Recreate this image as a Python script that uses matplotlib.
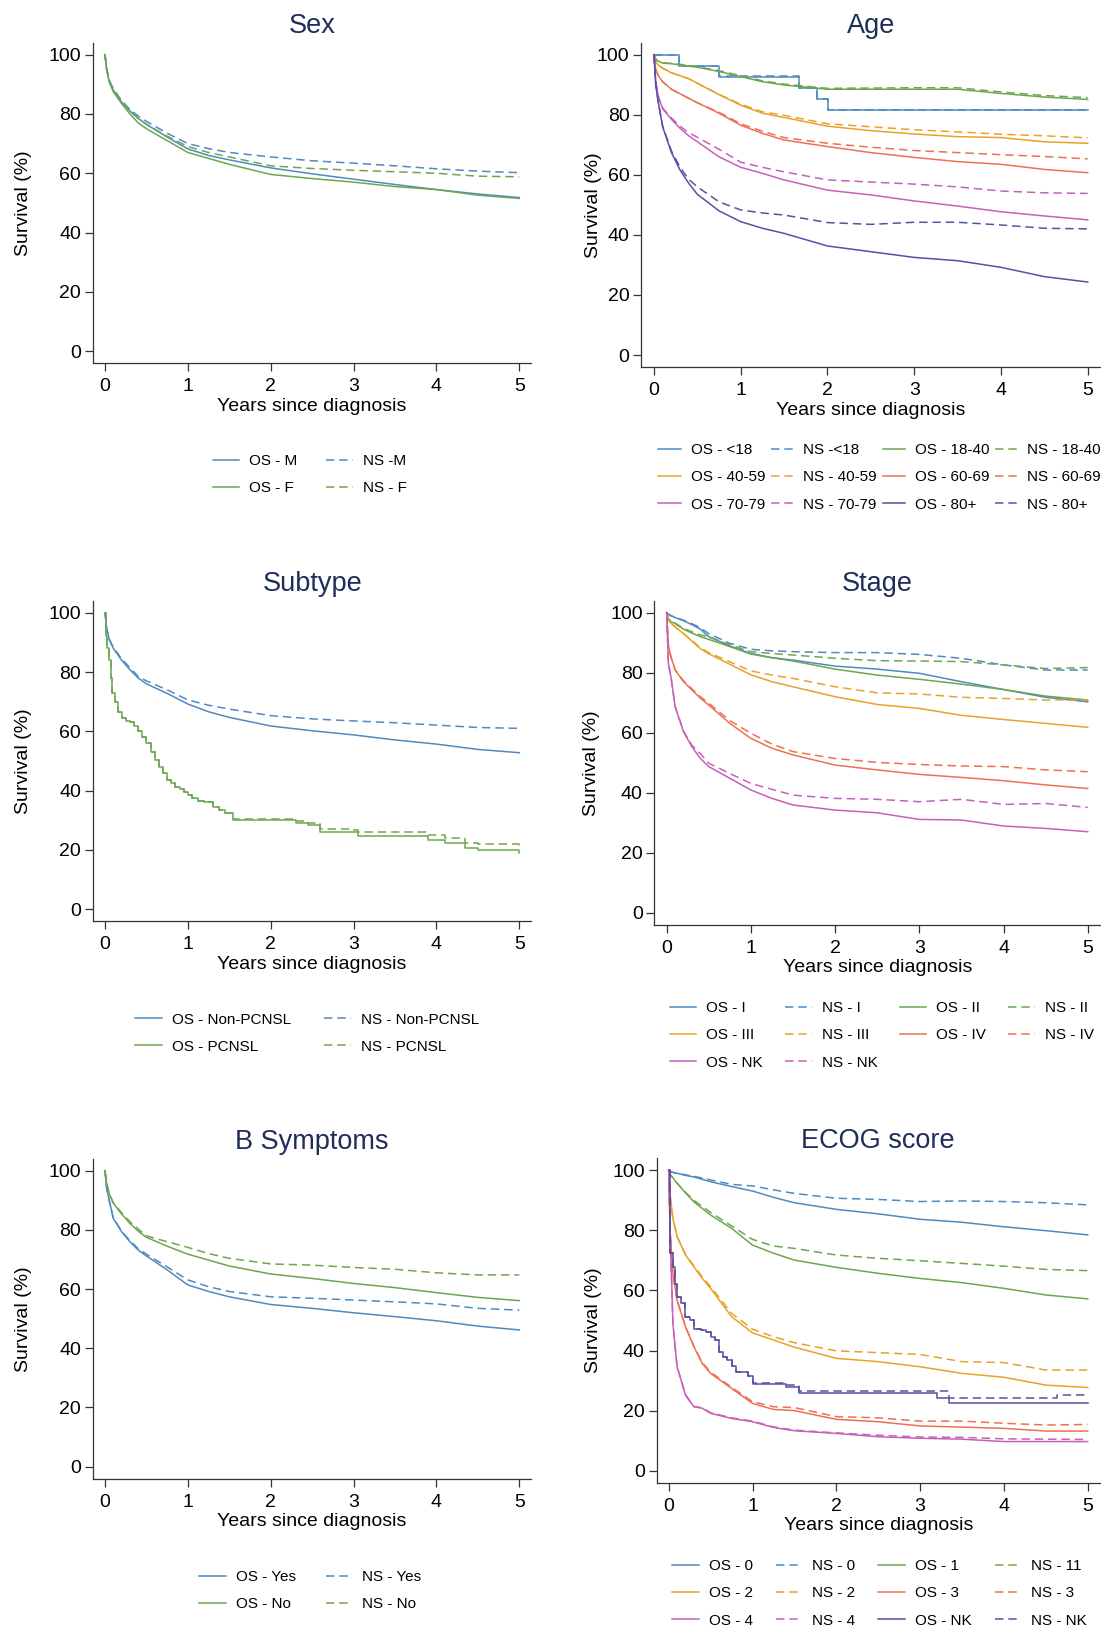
import matplotlib
matplotlib.use('Agg')
import matplotlib.pyplot as plt
from matplotlib.lines import Line2D

plt.rcParams['font.family'] = ['Liberation Sans', 'DejaVu Sans']

# ---------------- data (survival %) ----------------
# common time grid (years) for the smooth curves
grid = [0, 0.02, 0.05, 0.1, 0.2, 0.3, 0.4, 0.5, 0.75, 1, 1.25, 1.5, 2, 2.5, 3, 3.5, 4, 4.5, 5]

# Sex
os_m = [100, 95, 91, 88, 84, 81, 78.5, 76.5, 72.2, 68.2, 66, 64.5, 61.8, 59.8, 58, 56.2, 54.5, 53, 51.8]
ns_m = [100, 95.2, 91.5, 88.5, 84.5, 81.5, 79.3, 77.5, 73.5, 70, 68.3, 67, 65.5, 64.2, 63.4, 62.5, 61.5, 60.7, 60.2]
os_f = [100, 95, 91, 87.5, 83.5, 80, 77, 75, 71, 67, 65, 63, 59.6, 58.2, 57, 55.5, 54.5, 52.6, 51.5]
ns_f = [100, 95, 91, 88, 84, 81, 78.5, 76.5, 72.5, 69, 67, 65.5, 62.5, 61.6, 61, 60.5, 60, 59, 58.8]

# Age
age_u18_t = [0, 0.29, 0.755, 1.676, 1.876, 2.01, 5]
os_u18 = [100, 96.3, 92.7, 88.9, 85.2, 81.5, 81.5]
ns_u18 = [100, 96.4, 92.8, 89.0, 85.3, 81.6, 81.6]
os_18_40 = [100, 98.5, 97.8, 97.2, 97, 96.6, 96.2, 95.8, 94.4, 92.7, 91, 89.9, 88.5, 88.5, 88.5, 88.5, 87.1, 85.9, 85.1]
ns_18_40 = [100, 98.5, 97.8, 97.3, 97.1, 96.8, 96.4, 96, 94.7, 93, 91.3, 90.2, 88.8, 88.9, 89, 89, 87.6, 86.4, 85.7]
os_40_59 = [100, 97.5, 96.5, 95.5, 94, 93, 92, 90.5, 86.7, 83.2, 80.5, 79.1, 76.2, 74.7, 73.6, 72.7, 72.4, 71, 70.5]
ns_40_59 = [100, 97.5, 96.5, 95.5, 94, 93, 92, 90.5, 86.8, 83.5, 81, 79.8, 77, 76, 75, 74.3, 73.5, 73, 72.3]
os_60_69 = [100, 95, 93, 91, 88.5, 87, 85.5, 84, 80.5, 76.5, 73.8, 71.6, 69.4, 67.4, 65.8, 64.4, 63.5, 61.8, 60.7]
ns_60_69 = [100, 95, 93, 91, 88.5, 87, 85.5, 84, 80.8, 77, 74.5, 72.4, 70.5, 69.2, 68.1, 67.4, 66.7, 66.1, 65.3]
os_70_79 = [100, 91, 86, 82, 78.5, 75.5, 73, 71, 66, 62.5, 60.5, 58.3, 54.9, 53.3, 51.3, 49.6, 47.7, 46.3, 45]
ns_70_79 = [100, 91, 86, 82.2, 79, 76.2, 74, 72.5, 68.5, 64.2, 62.5, 61, 58.3, 57.6, 56.9, 56, 54.6, 54, 53.8]
os_80p = [100, 90, 84, 76, 67.5, 61.6, 57.2, 53.5, 48, 44.4, 42.2, 40.5, 36.3, 34.4, 32.5, 31.4, 29.2, 26.1, 24.3]
ns_80p = [100, 90, 84, 76.2, 68, 62.5, 58.5, 56, 51, 48.3, 47.3, 46.6, 44.1, 43.5, 44.2, 44.2, 43.3, 42.2, 42]

# Subtype
os_non = [100, 94.7, 91, 88, 84, 80.8, 78, 76, 72.8, 69.2, 66.6, 64.7, 61.8, 60.2, 58.8, 57.1, 55.7, 53.9, 52.8]
ns_non = [100, 94.8, 91.2, 88.3, 84.5, 81.5, 78.5, 77, 74, 70.6, 68.8, 67.5, 65.3, 64.2, 63.5, 62.9, 62.1, 61.3, 61]
pcnsl_t = [0, 0.01, 0.03, 0.05, 0.07, 0.09, 0.12, 0.16, 0.2, 0.25, 0.3, 0.35, 0.4, 0.45, 0.5, 0.55, 0.6, 0.65,
           0.7, 0.75, 0.8, 0.85, 0.9, 0.95, 1.0, 1.05, 1.12, 1.2, 1.3, 1.38, 1.45, 1.55, 2.3, 2.45, 2.6, 3.0,
           3.05, 3.9, 4.1, 4.35, 4.5, 5.0]
os_pcnsl = [100, 92, 88, 84, 78, 73, 70, 66.5, 64.5, 63.5, 63, 61.8, 60, 58, 56, 53, 50.3, 48, 45.8, 43.6, 42.5,
            41.3, 40.5, 39.7, 38.5, 37.4, 36.6, 36.3, 34.6, 33.5, 32.4, 30.1, 29.2, 28.4, 26.2, 25.9, 24.7,
            23.4, 22.2, 20.6, 20, 19.1]
ns_pcnsl = [100, 92, 88, 84, 78, 73, 70, 66.5, 64.5, 63.5, 63, 61.8, 60, 58, 56, 53, 50.3, 48, 45.8, 43.6, 42.5,
            41.3, 40.5, 39.7, 38.5, 37.4, 36.6, 36.3, 34.6, 33.5, 32.4, 30.3, 29.8, 29.2, 27, 26.6, 26,
            25.2, 24, 22.5, 22, 21.2]

# Stage
os_i = [100, 99.5, 99, 98.4, 97.3, 96, 94.5, 92, 88.9, 86.4, 85, 84.2, 82.2, 81.2, 79.8, 77, 74.4, 71.8, 70.3]
ns_i = [100, 99.5, 99, 98.5, 97.5, 96.3, 95, 93, 89.8, 87.8, 87.3, 87, 86.7, 86.7, 86.1, 84.8, 82.6, 80.9, 80.9]
os_ii = [100, 98, 97, 96.4, 94.5, 93.2, 92, 91.1, 88.7, 86.2, 85, 83.9, 81.2, 79.2, 77.8, 76.2, 74.4, 72.2, 70.9]
ns_ii = [100, 98, 97, 96.5, 94.8, 93.6, 92.6, 92, 89.3, 87, 86.4, 85.9, 84.8, 84, 83.9, 83.7, 82.6, 81.4, 81.7]
os_iii = [100, 97.5, 96.5, 95.3, 93, 90.5, 88, 86.3, 82.8, 79.3, 77, 75.3, 72, 69.4, 68.1, 65.8, 64.4, 63.1, 61.8]
ns_iii = [100, 97.5, 96.5, 95.3, 93, 90.8, 88.3, 86.7, 83.6, 80.6, 79.2, 78.1, 75.3, 73.3, 72.9, 71.8, 71.4, 70.9, 70.9]
os_iv = [100, 89, 85.3, 80.9, 77, 74.2, 71.5, 69.2, 63.1, 58.1, 54.8, 52.6, 49.2, 47.6, 46.1, 45.1, 44, 42.6, 41.4]
ns_iv = [100, 89, 85.3, 81, 77.3, 74.6, 72, 69.8, 64, 59.8, 56.2, 53.7, 51.4, 50.1, 49.4, 48.9, 48.7, 47.6, 47]
os_snk = [100, 83, 78.7, 68.7, 60.3, 55.3, 51.4, 48.7, 44.8, 40.9, 38.1, 35.9, 34.2, 33.3, 31.1, 30.9, 28.9, 28.1, 27]
ns_snk = [100, 83, 78.7, 68.7, 60.5, 55.8, 53, 49.8, 46.4, 43.1, 41.1, 39.2, 38.1, 37.8, 37, 37.8, 36.1, 36.4, 35.1]

# B symptoms
os_yes = [100, 94, 90.1, 83.9, 79.4, 76, 73.2, 71.2, 66.5, 61.4, 59.2, 57.4, 54.8, 53.5, 52, 50.7, 49.3, 47.5, 46.2]
ns_yes = [100, 94, 90.1, 84, 79.6, 76.4, 73.7, 71.8, 67.5, 63.1, 60.8, 59.2, 57.4, 56.9, 56.3, 55.7, 55, 53.5, 52.9]
os_no = [100, 95.7, 92.3, 89, 85.4, 82.2, 79.6, 77.5, 74.5, 71.8, 69.8, 67.8, 65.1, 63.6, 61.9, 60.5, 58.8, 57.2, 56.1]
ns_no = [100, 95.7, 92.3, 89.2, 85.8, 82.8, 80.3, 78, 76, 74.1, 72, 70.4, 68.5, 68.1, 67.3, 66.7, 65.5, 64.8, 64.8]

# ECOG
os_e0 = [100, 99.6, 99.3, 99, 98.3, 97.8, 97, 96.2, 94.6, 93.1, 91, 89.2, 87, 85.5, 83.7, 82.7, 81.2, 79.9, 78.5]
ns_e0 = [100, 99.6, 99.3, 99, 98.5, 98, 97.4, 96.8, 95.3, 94.8, 93.5, 92.3, 90.7, 90.3, 89.6, 89.8, 89.6, 89.2, 88.5]
os_e1 = [100, 98.5, 97.5, 95.7, 92.5, 89.5, 87.3, 85.1, 80.7, 75.1, 72.4, 70.1, 67.7, 65.7, 64, 62.6, 60.7, 58.5, 57.2]
ns_e1 = [100, 98.5, 97.5, 95.7, 92.7, 90, 88, 86, 81.5, 77, 74.8, 74, 71.8, 70.7, 69.9, 69, 68.1, 67, 66.6]
os_e2 = [100, 91, 84, 77.9, 71.8, 67.9, 64, 60.7, 51.3, 45.9, 43.5, 41.1, 37.4, 36.3, 34.6, 32.4, 31.1, 28.5, 27.7]
ns_e2 = [100, 91, 84, 78, 72, 68.2, 64.5, 61.3, 52.4, 47.1, 44.6, 42.6, 39.9, 39.3, 38.7, 36.3, 36, 33.5, 33.5]
os_e3 = [100, 78, 65.7, 56.8, 47.9, 41.3, 35.7, 32.4, 27.4, 22.4, 20.4, 20, 17.1, 16.3, 14.9, 14.5, 14.1, 13.2, 13.2]
ns_e3 = [100, 78, 65.7, 56.8, 48, 41.5, 36, 32.8, 27.8, 23, 21.3, 21, 18, 17.6, 16.5, 16.5, 15.8, 15.2, 15.4]
os_e4 = [100, 76.8, 49.1, 34.6, 25.2, 21.3, 20.8, 19.1, 17.4, 16.3, 14.4, 13.3, 12.4, 11.3, 10.8, 10.5, 9.7, 9.7, 9.7]
ns_e4 = [100, 76.8, 49.1, 34.6, 25.3, 21.4, 20.9, 19.3, 17.6, 16.5, 14.6, 13.5, 12.6, 11.8, 11.2, 11.1, 10.6, 10.5, 10.4]
enk_t = [0, 0.01, 0.02, 0.05, 0.08, 0.1, 0.15, 0.2, 0.25, 0.3, 0.38, 0.45, 0.5, 0.55, 0.6, 0.65, 0.7, 0.75,
         0.8, 0.95, 1.0, 1.4, 1.55, 3.2, 3.35, 4.63, 5]
os_enk = [100, 85, 72.4, 67.9, 62, 57.9, 55.7, 51.3, 50.2, 47.1, 46.8, 46.3, 44.6, 43.5, 39.6, 38, 36.8, 35,
          33, 31.5, 28.9, 28, 25.7, 24.1, 22.6, 22.6, 22.6]
ns_enk = [100, 85, 72.4, 67.9, 62, 57.9, 55.7, 51.3, 50.2, 47.1, 46.8, 46.3, 44.6, 43.5, 39.6, 38, 36.8, 35,
          33, 31.5, 29.2, 28.4, 26.6, 26.6, 24.3, 25.2, 25.2]

# ---------------- styling ----------------
W, H = 1101, 1626
BLUE = '#4f8ac1'
GREEN = '#6ea650'
ORANGE = '#e8a22a'
RED = '#ee7052'
PINK = '#c561b8'
PURPLE = '#5b4fa3'
NAVY = '#1f2d5a'
DASH = (5.5, 3.2)
XL = (-0.145, 5.145)
YL = (-4, 104)

fig = plt.figure(figsize=(W / 100, H / 100), dpi=100)


def panel(x0, x5, y100, y0, title, ylab_x):
    """make an axes from pixel positions of x=0, x=5, y=100, y=0"""
    ppx = (x5 - x0) / 5.0
    ppy = (y0 - y100) / 100.0
    left = x0 + XL[0] * ppx
    right = x0 + XL[1] * ppx
    top = y100 - (YL[1] - 100) * ppy
    bottom = y0 - YL[0] * ppy
    ax = fig.add_axes([left / W, 1 - bottom / H, (right - left) / W, (bottom - top) / H])
    ax.set_xlim(*XL)
    ax.set_ylim(*YL)
    ax.set_xticks(range(6))
    ax.set_yticks(range(0, 101, 20))
    for s in ('top', 'right'):
        ax.spines[s].set_visible(False)
    for s in ('left', 'bottom'):
        ax.spines[s].set_linewidth(0.9)
        ax.spines[s].set_color('#333333')
    ax.tick_params(direction='out', length=5.5, width=0.9, color='#333333',
                   labelsize=14, pad=3)
    ax.tick_params(axis='x', pad=5.5)
    cx = (left + right) / 2
    fig.text(cx / W, 1 - (top - 17) / H, title, ha='center', va='center',
             fontsize=19.5, color=NAVY)
    fig.text(cx / W, 1 - (bottom + 43) / H, 'Years since diagnosis',
             ha='center', va='center', fontsize=14)
    fig.text(ylab_x / W, 1 - ((top + bottom) / 2) / H, 'Survival (%)', rotation=90,
             ha='center', va='center', fontsize=14)
    return ax


def curve(ax, t, s, color, dashed=False, steps=False):
    kw = dict(color=color, lw=1.1)
    if steps:
        kw['drawstyle'] = 'steps-post'
    line, = ax.plot(t, s, **kw)
    if dashed:
        line.set_dashes(DASH)
    return line


def legend(entries, x, y, ncol, colsp, hlen=1.75):
    """entries given row by row; matplotlib fills column by column"""
    cols = [[] for _ in range(ncol)]
    for i, e in enumerate(entries):
        cols[i % ncol].append(e)
    ordered = [e for c in cols for e in c]
    handles = []
    for lab, col, dashed in ordered:
        h = Line2D([], [], color=col, lw=1.1)
        if dashed:
            h.set_dashes(DASH)
        handles.append(h)
    fig.legend(handles, [e[0] for e in ordered], loc='upper left',
               bbox_to_anchor=(x / W, 1 - (y - 5) / H), ncol=ncol, frameon=False,
               fontsize=11, handlelength=hlen, handletextpad=0.65,
               columnspacing=colsp, labelspacing=0.87, borderpad=0, borderaxespad=0)


# Sex
ax = panel(105, 519.3, 54.6, 351.2, 'Sex', 23.8)
curve(ax, grid, os_m, BLUE)
curve(ax, grid, ns_m, BLUE, dashed=True)
curve(ax, grid, os_f, GREEN)
curve(ax, grid, ns_f, GREEN, dashed=True)
legend([('OS - M', BLUE, False), ('NS -M', BLUE, True),
        ('OS - F', GREEN, False), ('NS - F', GREEN, True)], 212.5, 459, 2, 1.9)

# Age
ax = panel(654, 1087.7, 54.7, 355, 'Age', 593)
curve(ax, age_u18_t, os_u18, BLUE, steps=True)
curve(ax, age_u18_t, ns_u18, BLUE, dashed=True, steps=True)
curve(ax, grid, os_18_40, GREEN)
curve(ax, grid, ns_18_40, GREEN, dashed=True)
curve(ax, grid, os_40_59, ORANGE)
curve(ax, grid, ns_40_59, ORANGE, dashed=True)
curve(ax, grid, os_60_69, RED)
curve(ax, grid, ns_60_69, RED, dashed=True)
curve(ax, grid, os_70_79, PINK)
curve(ax, grid, ns_70_79, PINK, dashed=True)
curve(ax, grid, os_80p, PURPLE)
curve(ax, grid, ns_80p, PURPLE, dashed=True)
legend([('OS - <18', BLUE, False), ('NS -<18', BLUE, True),
        ('OS - 18-40', GREEN, False), ('NS - 18-40', GREEN, True),
        ('OS - 40-59', ORANGE, False), ('NS - 40-59', ORANGE, True),
        ('OS - 60-69', RED, False), ('NS - 60-69', RED, True),
        ('OS - 70-79', PINK, False), ('NS - 70-79', PINK, True),
        ('OS - 80+', PURPLE, False), ('NS - 80+', PURPLE, True)],
       658.3, 448, 4, 0.37, hlen=1.47)

# Subtype
ax = panel(105, 519.3, 612.7, 909.3, 'Subtype', 23.8)
curve(ax, grid, os_non, BLUE)
curve(ax, grid, ns_non, BLUE, dashed=True)
curve(ax, pcnsl_t, os_pcnsl, GREEN, steps=True)
curve(ax, pcnsl_t, ns_pcnsl, GREEN, dashed=True, steps=True)
legend([('OS - Non-PCNSL', BLUE, False), ('NS - Non-PCNSL', BLUE, True),
        ('OS - PCNSL', GREEN, False), ('NS - PCNSL', GREEN, True)], 135, 1017.5, 2, 2.2)

# Stage
ax = panel(666.7, 1087.7, 612.7, 912.7, 'Stage', 591)
for os_s, ns_s, col in ((os_i, ns_i, BLUE), (os_ii, ns_ii, GREEN), (os_iii, ns_iii, ORANGE),
                        (os_iv, ns_iv, RED), (os_snk, ns_snk, PINK)):
    curve(ax, grid, os_s, col)
    curve(ax, grid, ns_s, col, dashed=True)
legend([('OS - I', BLUE, False), ('NS - I', BLUE, True),
        ('OS - II', GREEN, False), ('NS - II', GREEN, True),
        ('OS - III', ORANGE, False), ('NS - III', ORANGE, True),
        ('OS - IV', RED, False), ('NS - IV', RED, True),
        ('OS - NK', PINK, False), ('NS - NK', PINK, True)], 669.5, 1006, 4, 1.45)

# B Symptoms
ax = panel(105, 519.3, 1170.7, 1466.7, 'B Symptoms', 23.8)
curve(ax, grid, os_yes, BLUE)
curve(ax, grid, ns_yes, BLUE, dashed=True)
curve(ax, grid, os_no, GREEN)
curve(ax, grid, ns_no, GREEN, dashed=True)
legend([('OS - Yes', BLUE, False), ('NS - Yes', BLUE, True),
        ('OS - No', GREEN, False), ('NS - No', GREEN, True)], 199, 1575, 2, 1.96)

# ECOG score
ax = panel(668.7, 1087.7, 1170.3, 1470.7, 'ECOG score', 593)
for os_s, ns_s, col in ((os_e0, ns_e0, BLUE), (os_e1, ns_e1, GREEN), (os_e2, ns_e2, ORANGE),
                        (os_e3, ns_e3, RED), (os_e4, ns_e4, PINK)):
    curve(ax, grid, os_s, col)
    curve(ax, grid, ns_s, col, dashed=True)
curve(ax, enk_t, os_enk, PURPLE, steps=True)
curve(ax, enk_t, ns_enk, PURPLE, dashed=True, steps=True)
legend([('OS - 0', BLUE, False), ('NS - 0', BLUE, True),
        ('OS - 1', GREEN, False), ('NS - 11', GREEN, True),
        ('OS - 2', ORANGE, False), ('NS - 2', ORANGE, True),
        ('OS - 3', RED, False), ('NS - 3', RED, True),
        ('OS - 4', PINK, False), ('NS - 4', PINK, True),
        ('OS - NK', PURPLE, False), ('NS - NK', PURPLE, True)], 672, 1564, 4, 1.5)

fig.savefig('out.png', dpi=100)
